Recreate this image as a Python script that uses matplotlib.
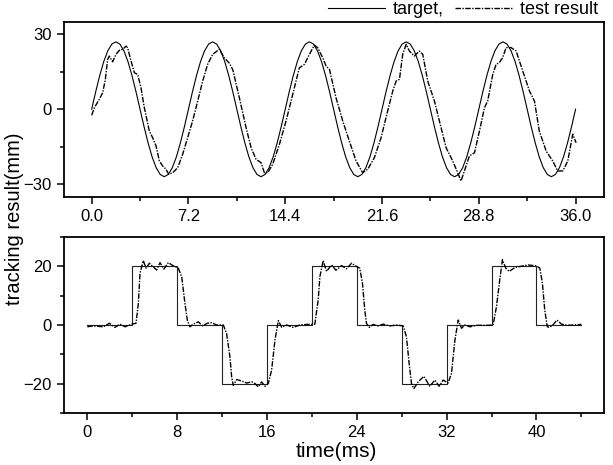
import numpy as np
import matplotlib
matplotlib.use("Agg")
import matplotlib.pyplot as plt
from matplotlib.ticker import MultipleLocator

plt.rcParams['font.family'] = ['Liberation Sans', 'DejaVu Sans']

# ---------------- top panel: sine tracking ----------------
sine_t = np.linspace(0, 36, 121)
sine_target = [
    0, 7.0, 13.5, 19.1, 23.4, 26.1, 27.0, 26.1, 23.4, 19.1, 13.5, 7.0,
    0, -7.0, -13.5, -19.1, -23.4, -26.1, -27.0, -26.1, -23.4, -19.1, -13.5, -7.0,
    0, 7.0, 13.5, 19.1, 23.4, 26.1, 27.0, 26.1, 23.4, 19.1, 13.5, 7.0,
    0, -7.0, -13.5, -19.1, -23.4, -26.1, -27.0, -26.1, -23.4, -19.1, -13.5, -7.0,
    0, 7.0, 13.5, 19.1, 23.4, 26.1, 27.0, 26.1, 23.4, 19.1, 13.5, 7.0,
    0, -7.0, -13.5, -19.1, -23.4, -26.1, -27.0, -26.1, -23.4, -19.1, -13.5, -7.0,
    0, 7.0, 13.5, 19.1, 23.4, 26.1, 27.0, 26.1, 23.4, 19.1, 13.5, 7.0,
    0, -7.0, -13.5, -19.1, -23.4, -26.1, -27.0, -26.1, -23.4, -19.1, -13.5, -7.0,
    0, 7.0, 13.5, 19.1, 23.4, 26.1, 27.0, 26.1, 23.4, 19.1, 13.5, 7.0,
    0, -7.0, -13.5, -19.1, -23.4, -26.1, -27.0, -26.1, -23.4, -19.1, -13.5, -7.0,
    0,
]

sine_test_t = [
    0.0, 0.2, 0.57, 0.82, 1.02, 1.19, 1.32, 1.45, 1.56, 1.81, 2.06, 2.31, 2.56, 2.68,
    2.93, 3.18, 3.42, 3.67, 3.92, 4.29, 4.54, 4.79, 5.04, 5.28, 5.53, 5.73, 6.03, 6.4,
    6.77, 7.14, 7.51, 7.89, 8.26, 8.63, 9.0, 9.5, 9.87, 10.25, 10.5, 10.99, 11.49, 11.86,
    12.23, 12.6, 12.85, 13.1, 13.47, 13.97, 14.46, 14.96, 15.45, 15.83, 16.2, 16.57,
    16.82, 17.19, 17.44, 17.69, 18.18, 18.68, 19.17, 19.67, 20.16, 20.54, 21.03, 21.53,
    22.02, 22.4, 22.65, 22.9, 23.14, 23.4, 23.64, 24.0, 24.38, 24.63, 25.0, 25.25, 25.5,
    25.87, 26.37, 26.86, 27.23, 27.48, 27.73, 28.1, 28.48, 28.85, 29.22, 29.46, 29.84,
    30.09, 30.33, 30.58, 30.83, 31.2, 31.58, 32.07, 32.57, 32.94, 33.3, 33.81, 34.3,
    34.67, 35.05, 35.42, 35.79, 36.04,
]
sine_test_v = [
    -2.4, 0.6, 4.0, 6.6, 12.0, 20.0, 21.3, 20.0, 19.0, 22.0, 23.6, 24.0, 25.3, 24.6,
    19.3, 14.6, 14.0, 8.6, 0.6, -8.7, -11.4, -14.7, -20.7, -22.7, -24.0, -26.0, -25.4, -23.4,
    -18.0, -11.4, -4.7, 3.3, 11.3, 18.0, 22.0, 24.0, 20.6, 18.4, 15.8, 4.6, -7.4, -15.4,
    -20.0, -21.4, -25.4, -25.4, -22.0, -14.0, -4.7, 6.0, 16.6, 18.0, 22.0, 25.7,
    24.6, 20.6, 17.3, 16.0, 4.6, -4.7, -12.7, -20.7, -25.4, -24.0, -19.4, -11.4,
    -0.7, 7.3, 11.3, 12.0, 22.0, 26.0, 23.3, 21.3, 23.3, 22.0, 11.3, 7.3, 3.3,
    -4.7, -15.4, -20.7, -25.4, -28.7, -24.7, -18.7, -17.4, -8.7, 0.6, 3.3, 14.0,
    18.0, 18.7, 20.7, 24.7, 24.7, 23.3, 15.3, 7.3, 3.3, -8.7, -16.7, -20.7,
    -24.7, -24.7, -20.7, -10.0, -13.4,
]
top_xticks = [0.0, 7.2, 14.4, 21.6, 28.8, 36.0]
top_yticks = [-30, 0, 30]

# ---------------- bottom panel: square tracking ----------------
sq_edges = [0, 4, 8, 12, 16, 20, 24, 28, 32, 36, 40, 44]
sq_target = [0, 20, 0, -20, 0, 20, 0, -20, 0, 20, 0, 0]

sq_test_t = [
    0.0, 0.5, 1.43, 1.96, 2.46, 2.91, 3.36, 3.95, 4.33, 4.54, 4.69, 4.98, 5.23, 5.52,
    5.82, 6.17, 6.47, 6.82, 7.21, 7.66, 8.1, 8.4, 8.69, 8.9, 9.13, 9.44, 9.88, 10.27,
    10.68, 11.08, 11.52, 12.11, 12.4, 12.7, 12.85, 13.0, 13.3, 13.74, 14.19, 14.64,
    14.93, 15.23, 15.52, 15.82, 16.11, 16.41, 16.71, 17.01, 17.31, 17.75, 18.34, 18.93,
    19.53, 20.26, 20.56, 20.71, 21.0, 21.3, 21.75, 22.14, 22.64, 23.08, 23.53, 23.97,
    24.26, 24.5, 24.71, 24.86, 25.1, 25.45, 25.9, 26.35, 26.94, 27.54, 28.13, 28.42,
    28.66, 28.87, 29.08, 29.47, 29.97, 30.5, 30.95, 31.34, 31.69, 32.13, 32.43, 32.74,
    33.03, 33.33, 33.62, 34.07, 34.67, 35.56, 36.14, 36.44, 36.73, 36.97, 37.27, 37.57,
    38.07, 38.81, 39.26, 40.0, 40.3, 40.53, 40.74, 40.97, 41.18, 41.53, 41.83, 42.23,
    42.81, 44.0,
]
sq_test_v = [
    -0.6, -0.3, -0.6, 0.6, -0.8, 0.3, -0.6, 0.3, 0.6, 7.4, 17.7, 22.0, 19.4, 21.1,
    20.0, 18.8, 21.3, 19.1, 21.3, 20.2, 19.4, 16.5, 7.4, 1.7, -0.6, 0.3, 1.1, -0.3,
    0.6, 0.8, 0.0, 0.0, -2.9, -10.9, -17.7, -20.6, -18.6, -19.1, -19.8, -19.4,
    -20.0, -21.1, -19.4, -20.9, -20.0, -15.4, -5.1, 1.5, -0.8, 0.0, -0.8, 0.0,
    0.2, 0.3, 8.6, 16.5, 22.0, 18.3, 20.5, 18.7, 20.3, 19.2, 21.1, 20.0,
    19.4, 14.3, 5.1, 0.6, -0.8, 0.2, -0.3, 0.3, -0.3, 0.0, -0.3, -4.0,
    -13.1, -20.0, -21.7, -19.4, -17.5, -20.9, -18.8, -20.9, -18.8, -19.8, -16.5, -5.1,
    1.7, -1.1, 0.0, -0.6, -0.1, -0.1, 0.0, 6.3, 15.4, 22.3, 19.4, 18.3,
    19.6, 20.2, 20.5, 20.2, 19.4, 14.3, 5.1, -0.6, -0.8, 0.3, 1.7, 0.3,
    -0.1, 0.2,
]
bot_xticks = [0, 8, 16, 24, 32, 40]
bot_yticks = [-20, 0, 20]

# ---------------- figure ----------------
fig = plt.figure(figsize=(6.13, 4.65), dpi=100)
ax1 = fig.add_axes([0.105, 0.577, 0.880, 0.376])
ax2 = fig.add_axes([0.105, 0.112, 0.880, 0.378])

test_style = dict(color='black', lw=1.0, linestyle=(0, (4, 1, 1, 1)))
targ_style = dict(color='black', lw=0.8)

l1, = ax1.plot(sine_t, sine_target, **targ_style, label='target,')
l2, = ax1.plot(sine_test_t, sine_test_v, **test_style, label='test result')
ax1.set_xlim(-2.03, 38.1)
ax1.set_ylim(-35, 35)
ax1.set_xticks(top_xticks)
ax1.set_xticklabels([f"{v:.1f}" for v in top_xticks])
ax1.xaxis.set_minor_locator(MultipleLocator(3.6))
ax1.set_yticks(top_yticks)
ax1.yaxis.set_minor_locator(MultipleLocator(15))

ax2.plot(sq_edges, sq_target, drawstyle='steps-post', color='#222222', lw=0.8)
ax2.plot(sq_test_t, sq_test_v, **test_style)
ax2.set_xlim(-2.05, 46.0)
ax2.set_ylim(-30, 30)
ax2.set_xticks(bot_xticks)
ax2.xaxis.set_minor_locator(MultipleLocator(4))
ax2.set_yticks(bot_yticks)
ax2.yaxis.set_minor_locator(MultipleLocator(10))

for ax in (ax1, ax2):
    for sp in ax.spines.values():
        sp.set_linewidth(1.3)
    ax.tick_params(which='major', direction='out', length=5, width=1.1,
                   labelsize=12, pad=4, top=False, right=False)
    ax.tick_params(which='minor', direction='out', length=3, width=1.1,
                   top=False, right=False)

fig.text(0.024, 0.53, 'tracking result(mm)', rotation=90, fontsize=14.5,
         ha='center', va='center')
fig.text(0.548, 0.030, 'time(ms)', fontsize=15, ha='center', va='center')

fig.legend(handles=[l1, l2], loc='upper right', bbox_to_anchor=(0.975, 0.998),
           ncol=2, frameon=False, fontsize=13, handlelength=3.2,
           handletextpad=0.4, columnspacing=0.6, borderaxespad=0.0,
           borderpad=0.0)

fig.savefig('out.png', dpi=100)
